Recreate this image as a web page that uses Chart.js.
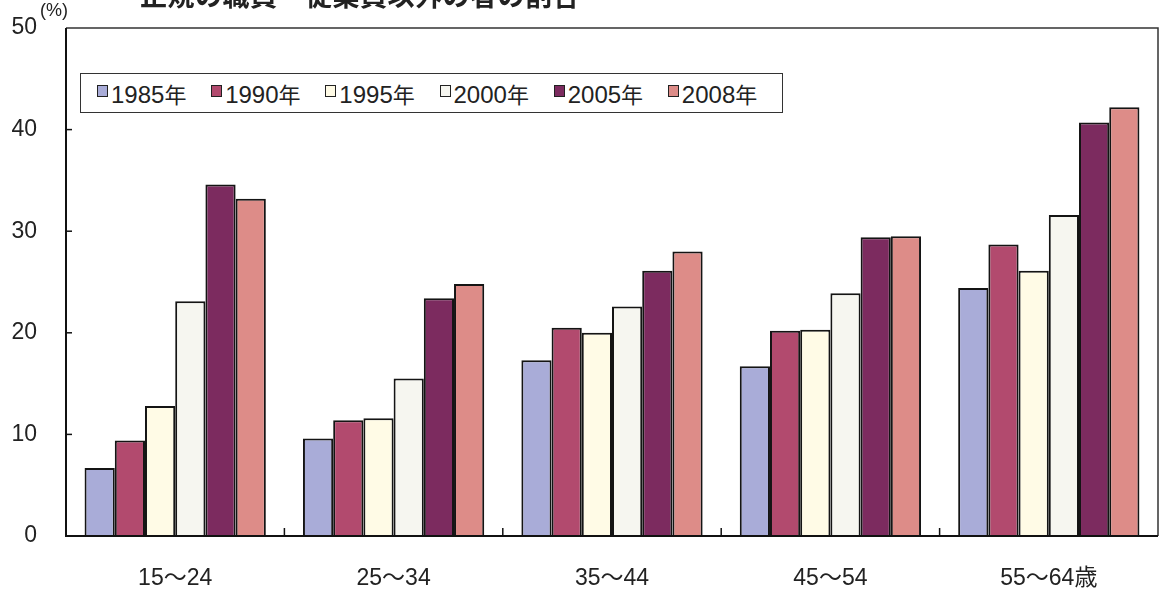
<!DOCTYPE html>
<html>
<head>
<meta charset="utf-8">
<script src="https://cdn.jsdelivr.net/npm/chart.js@4.4.1/dist/chart.umd.min.js"></script>
<style>
  html, body { margin: 0; padding: 0; background: #ffffff; }
  #wrap { position: relative; width: 1165px; height: 599px; overflow: hidden; }
  #title { position: absolute; left: 140px; top: -25px; font: bold 27px "Noto Sans CJK JP", sans-serif; color: #222; white-space: nowrap; letter-spacing: 0.5px; }
  #pct { position: absolute; left: 40px; top: 0px; font: 18px "Liberation Sans", Arial, sans-serif; color: #222; }
  #legend { position: absolute; left: 80px; top: 73px; width: 703px; height: 40px; border: 1.5px solid #333; background: #fff; display: flex; align-items: center; padding-left: 16px; box-sizing: border-box; }
  .item { display: flex; align-items: center; width: 119px; font: 24px "Liberation Sans", "Noto Sans CJK JP", sans-serif; color: #222; }
  .sw { width: 9px; height: 10px; border: 1.5px solid #222; margin-right: 3px; margin-top: -5px; }
  .lbl .nen { font-family: "Noto Sans CJK JP", sans-serif; font-size: 22px; }
</style>
</head>
<body>
<div id="wrap">
  <canvas id="c" width="1165" height="599"></canvas>
  <div id="title">正規の職員・従業員以外の者の割合</div>
  <div id="pct">(%)</div>
  <div id="legend"></div>
</div>
<script>
const categories = ['15～24', '25～34', '35～44', '45～54', '55～64歳'];
const seriesNames = ['1985年', '1990年', '1995年', '2000年', '2005年', '2008年'];
const y1985 = [6.7, 9.6, 17.3, 16.7, 24.4];
const y1990 = [9.4, 11.4, 20.5, 20.2, 28.7];
const y1995 = [12.8, 11.6, 20.0, 20.3, 26.1];
const y2000 = [23.1, 15.5, 22.6, 23.9, 31.6];
const y2005 = [34.6, 23.4, 26.1, 29.4, 40.7];
const y2008 = [33.2, 24.8, 28.0, 29.5, 42.2];
const yTicks = [0, 10, 20, 30, 40, 50];

const seriesValues = [y1985, y1990, y1995, y2000, y2005, y2008];
const colors = ['#a9acd8', '#b24a6e', '#fffbe6', '#f6f6f0', '#7c2b5f', '#dd8c88'];

const legendEl = document.getElementById('legend');
seriesNames.forEach((n, i) => {
  const it = document.createElement('div');
  it.className = 'item';
  const sw = document.createElement('div');
  sw.className = 'sw';
  sw.style.background = colors[i];
  const lb = document.createElement('span');
  lb.className = 'lbl';
  lb.innerHTML = n.replace('年', '<span class="nen">年</span>');
  it.appendChild(sw); it.appendChild(lb);
  legendEl.appendChild(it);
});

const framePlugin = {
  id: 'frame',
  afterDatasetsDraw(chart) {
    const { ctx, chartArea: a, scales } = chart;
    ctx.save();
    ctx.strokeStyle = '#333';
    ctx.lineWidth = 1.5;
    ctx.beginPath();
    ctx.moveTo(a.left, a.top); ctx.lineTo(a.right, a.top); ctx.lineTo(a.right, a.bottom);
    ctx.stroke();
    ctx.strokeStyle = '#111';
    ctx.lineWidth = 2;
    ctx.beginPath();
    ctx.moveTo(a.left, a.top); ctx.lineTo(a.left, a.bottom); ctx.lineTo(a.right, a.bottom);
    ctx.stroke();
    ctx.lineWidth = 1.5;
    yTicks.forEach(v => {
      if (v === 0 || v === 50) return;
      const y = scales.y.getPixelForValue(v);
      ctx.beginPath(); ctx.moveTo(a.left, y); ctx.lineTo(a.left + 6, y); ctx.stroke();
    });
    for (let i = 1; i < categories.length; i++) {
      const x = (scales.x.getPixelForValue(i - 1) + scales.x.getPixelForValue(i)) / 2;
      ctx.beginPath(); ctx.moveTo(x, a.bottom); ctx.lineTo(x, a.bottom - 8); ctx.stroke();
    }
    ctx.restore();
  }
};

new Chart(document.getElementById('c'), {
  type: 'bar',
  data: {
    labels: categories,
    datasets: seriesNames.map((n, i) => ({
      label: n,
      data: seriesValues[i],
      backgroundColor: colors[i],
      borderColor: '#141414',
      borderWidth: 2,
      barPercentage: 1.0,
      categoryPercentage: 0.83
    }))
  },
  options: {
    responsive: false,
    animation: false,
    layout: { padding: { left: 0, right: 7, top: 28, bottom: 0 } },
    plugins: { legend: { display: false }, tooltip: { enabled: false }, title: { display: false } },
    scales: {
      x: {
        grid: { display: false, drawTicks: false },
        border: { display: false },
        ticks: { color: '#222', font: { size: 23, family: '"Liberation Sans", "Noto Sans CJK JP", sans-serif' }, padding: 29 },
        afterFit(s) { s.height = 63; s.paddingLeft = 0; s.paddingRight = 0; }
      },
      y: {
        min: 0, max: 50,
        grid: { display: false, drawTicks: false },
        border: { display: false },
        afterBuildTicks(s) { s.ticks = yTicks.map(v => ({ value: v })); },
        ticks: { color: '#222', font: { size: 23, family: '"Liberation Sans", sans-serif' }, padding: 29 },
        afterFit(s) { s.width = 66; s.paddingTop = 0; s.paddingBottom = 0; }
      }
    }
  },
  plugins: [framePlugin]
});
</script>
</body>
</html>
